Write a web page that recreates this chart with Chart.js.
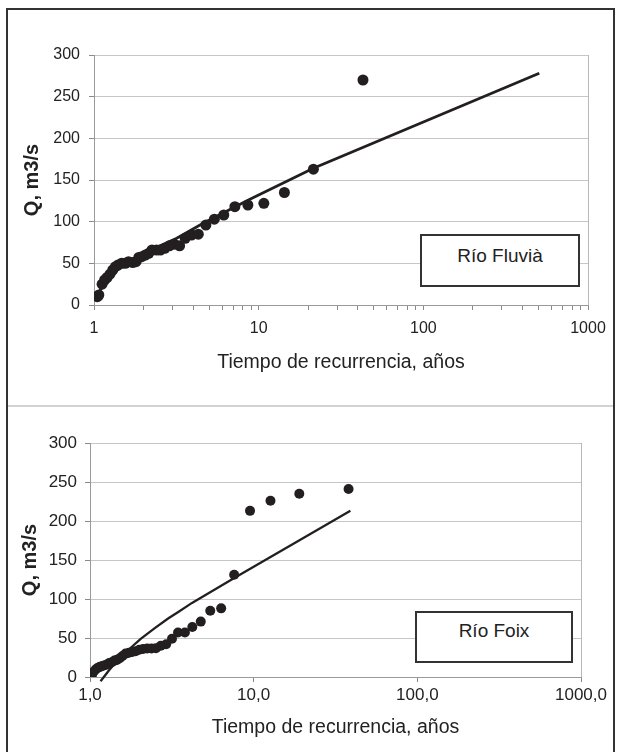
<!DOCTYPE html>
<html lang="es">
<head>
<meta charset="UTF-8">
<title>Tiempo de recurrencia - Río Fluvià / Río Foix</title>
<script src="https://cdn.jsdelivr.net/npm/chart.js"></script>
<style>
    body {
        margin: 0;
        width: 621px;
        height: 752px;
        background: #fff;
        position: relative;
        overflow: hidden;
        font-family: "Liberation Sans", Arial, sans-serif;
    }
    .marco {
        position: absolute;
        left: 6px; top: 8px;
        width: 609px; height: 746px;
        border: 2px solid #333;
        border-bottom: none;
        box-sizing: border-box;
    }
    .divisor {
        position: absolute;
        left: 8px; top: 405px;
        width: 605px; height: 2px;
        background: #d2d2d2;
    }
    .grafica { position: absolute; left: 0; }
    .leyenda {
        position: absolute;
        background: #fff;
        border: 2px solid #333;
        box-sizing: border-box;
        text-align: center;
        font-size: 19px;
        line-height: 20px;
        color: #222;
    }
</style>
</head>
<body>
<div class="marco"></div>
<div class="divisor"></div>
<canvas id="fluvia" class="grafica" width="621" height="406" style="top:0px"></canvas>
<canvas id="foix" class="grafica" width="621" height="345" style="top:407px"></canvas>
<div class="leyenda" style="left:420px; top:234px; width:160px; height:53px; padding-top:10px;">Río Fluvià</div>
<div class="leyenda" style="left:415px; top:611px; width:158px; height:52px; padding-top:8px;">Río Foix</div>

<script>
    // Río Fluvià: caudales observados (T en años, Q en m3/s)
    const tFluvia = [1.05, 1.07, 1.12, 1.16, 1.20, 1.25, 1.30, 1.35, 1.40, 1.47, 1.55, 1.62, 1.72, 1.80, 1.87,
        1.95, 2.05, 2.15, 2.25, 2.40, 2.53, 2.69, 2.87, 3.07, 3.31, 3.58, 3.91, 4.30, 4.78, 5.38,
        6.14, 7.17, 8.60, 10.75, 14.33, 21.5, 43];
    const qFluvia = [10, 12, 25, 30, 33, 37, 42, 46, 48, 50, 50, 52, 51, 52, 57,
        58, 60, 62, 66, 66, 66, 68, 71, 73, 71, 80, 84, 85, 96, 103,
        108, 118, 120, 122, 135, 163, 270];
    // Río Fluvià: curva ajustada
    const tFluviaAjuste = [1.05, 1.2, 1.5, 2, 3.18, 4.6, 8.85, 21.5, 506];
    const qFluviaAjuste = [12, 32, 48, 62, 80, 98, 127, 164, 278];

    // Río Foix: caudales observados
    const tFoix = [1.027, 1.056, 1.086, 1.12, 1.15, 1.19, 1.23, 1.27, 1.31, 1.36, 1.41, 1.46, 1.52, 1.58, 1.65,
        1.73, 1.81, 1.9, 2.0, 2.11, 2.235, 2.375, 2.53, 2.71, 2.92, 3.17, 3.45, 3.8, 4.22, 4.75,
        5.43, 6.33, 7.6, 9.5, 12.67, 19, 38];
    const qFoix = [2, 7, 10, 12, 13, 14, 15, 16, 18, 19, 21, 22, 24, 27, 30,
        31, 32, 33, 35, 36, 36.5, 36.5, 37, 40, 42, 49, 57, 57, 64, 71,
        85, 88, 131, 213, 226, 235, 241];
    // Río Foix: curva ajustada
    const tFoixAjuste = [1.16, 1.3, 1.47, 1.7, 2.04, 2.5, 3.0, 3.5, 4.2, 6.0, 7.7, 12, 20, 39];
    const qFoixAjuste = [-5.5, 8, 21, 34, 49, 63, 75, 84, 95, 114, 127.5, 151, 178, 213];

    const ticksQ = [0, 50, 100, 150, 200, 250, 300];
    const etiquetasTFluvia = ["1", "10", "100", "1000"];
    const etiquetasTFoix = ["1,0", "10,0", "100,0", "1000,0"];

    const fuente = '"Liberation Sans", Arial, sans-serif';
    const negro = "#231f20";

    function puntos(xs, ys) {
        return xs.map((x, i) => ({ x: x, y: ys[i] }));
    }

    // marcas del eje log: 1..9, 10..90, 100..900, 1000
    const marcasMenores = [];
    [1, 10, 100].forEach(d => { for (let k = 1; k <= 9; k++) marcasMenores.push(k * d); });
    marcasMenores.push(1000);

    function crearGrafica(id, obs, ajuste, p) {
        new Chart(document.getElementById(id), {
            type: "scatter",
            data: {
                datasets: [
                    {
                        label: "Observados",
                        data: obs,
                        pointRadius: p.radio,
                        pointBackgroundColor: negro,
                        pointBorderWidth: 0,
                        showLine: false
                    },
                    {
                        label: "Ajuste",
                        data: ajuste,
                        showLine: true,
                        pointRadius: 0,
                        borderColor: negro,
                        borderWidth: p.grosor,
                        tension: 0,
                        clip: false
                    }
                ]
            },
            options: {
                responsive: false,
                animation: false,
                layout: { padding: { left: p.izq, right: p.der, top: p.arriba, bottom: 0 } },
                plugins: { legend: { display: false }, tooltip: { enabled: false } },
                scales: {
                    x: {
                        type: "logarithmic",
                        min: 1,
                        max: 1000,
                        afterFit: s => { s.height = p.altoX; },
                        afterBuildTicks: s => { s.ticks = p.marcasX.map(v => ({ value: v })); },
                        border: { color: "#9a9a9a", width: 1 },
                        grid: {
                            color: c => (c.tick && c.tick.value === 1000 ? "#b8b8b8" : "rgba(0,0,0,0)"),
                            tickColor: "#8a8a8a",
                            tickLength: 5
                        },
                        ticks: {
                            autoSkip: false,
                            maxRotation: 0,
                            padding: p.padX,
                            color: "#222",
                            font: { family: fuente, size: p.tamTicks },
                            callback: v => {
                                const e = Math.round(Math.log10(v));
                                return Math.abs(Math.pow(10, e) - v) < 1e-9 ? p.etiquetasX[e] : "";
                            }
                        },
                        title: {
                            display: true,
                            text: "Tiempo de recurrencia, años",
                            color: "#222",
                            font: { family: fuente, size: 19.5 },
                            padding: { top: 0, bottom: p.padTituloX }
                        }
                    },
                    y: {
                        min: 0,
                        max: 300,
                        afterFit: s => { s.width = p.anchoY; },
                        afterBuildTicks: s => { s.ticks = ticksQ.map(v => ({ value: v })); },
                        border: { color: "#9a9a9a", width: 1 },
                        grid: { color: "#c6c6c6", tickColor: "#8a8a8a", tickLength: 5 },
                        ticks: {
                            padding: p.padY,
                            color: "#222",
                            font: { family: fuente, size: p.tamTicks }
                        },
                        title: {
                            display: true,
                            text: "Q, m3/s",
                            color: "#222",
                            font: { family: fuente, size: 20, weight: "bold" },
                            padding: { top: 2, bottom: 0 }
                        }
                    }
                }
            }
        });
    }

    crearGrafica("fluvia", puntos(tFluvia, qFluvia), puntos(tFluviaAjuste, qFluviaAjuste), {
        izq: 18, der: 33, arriba: 55, anchoY: 76, altoX: 101,
        padX: 9, padY: 9, padTituloX: 31.3, tamTicks: 16,
        radio: 5.5, grosor: 2.8,
        marcasX: marcasMenores, etiquetasX: etiquetasTFluvia
    });

    crearGrafica("foix", puntos(tFoix, qFoix), puntos(tFoixAjuste, qFoixAjuste), {
        izq: 16, der: 40, arriba: 36, anchoY: 74, altoX: 75,
        padX: 3, padY: 8, padTituloX: 12.3, tamTicks: 17,
        radio: 5, grosor: 2.3,
        marcasX: [1, 10, 100, 1000], etiquetasX: etiquetasTFoix
    });
</script>
</body>
</html>
